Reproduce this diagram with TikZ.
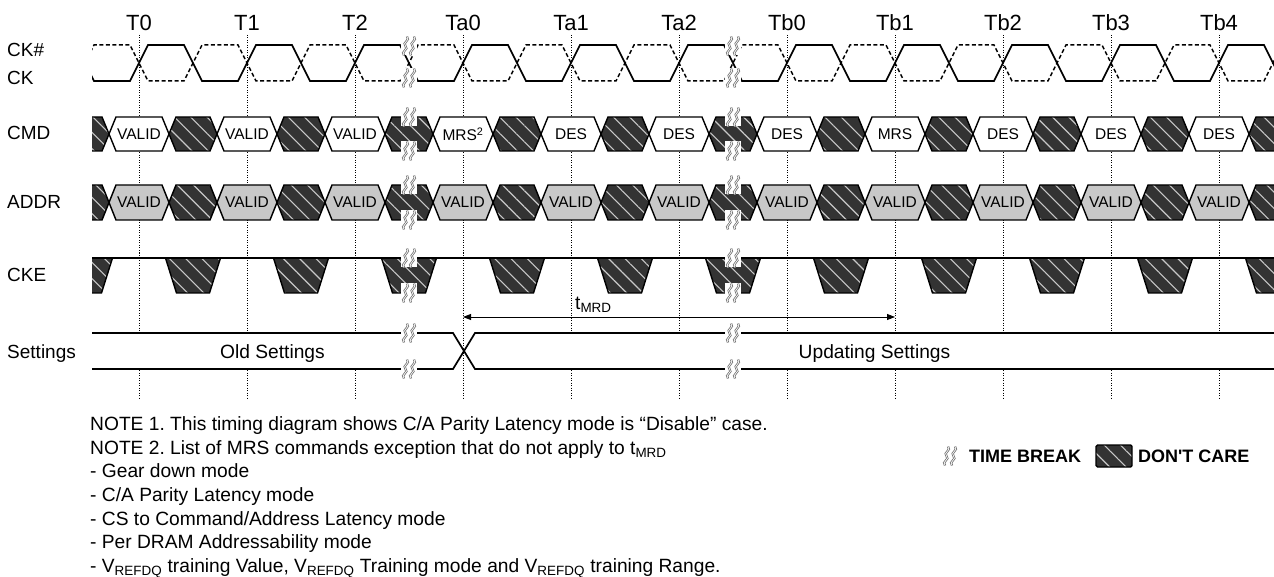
\documentclass[tikz,border=0pt]{standalone}
\usepackage{fontspec}
\setmainfont{Liberation Sans}[Ligatures=TeXOff]
\usetikzlibrary{calc,arrows.meta,patterns.meta}
\definecolor{dcgray}{HTML}{333333}
\definecolor{stripe}{HTML}{C8C8C8}
\definecolor{addrgray}{HTML}{C8C8C8}
\frenchspacing

\begin{document}
\begin{tikzpicture}[x=1pt,y=-1pt,
  every node/.style={inner sep=0pt},
  wave/.style={line width=1.7pt},
  clkbar/.style={line width=1.5pt,dash pattern=on 4pt off 2.5pt},
  tick/.style={line width=0.8pt,dash pattern=on 1pt off 1.5pt},
  bus/.style={draw,line width=1.4pt,line join=miter},
  valid/.style={bus,fill=white},
  addr/.style={bus,fill=addrgray},
  dontcare/.style={preaction={fill=dcgray},
    preaction={pattern={Lines[angle=-45,distance=11.5pt,line width=1.1pt]},pattern color=stripe},
    bus},
  tlabel/.style={font=\fontsize{22}{24}\selectfont},
  rowlabel/.style={font=\fontsize{19}{22}\selectfont,anchor=base west},
  boxtext/.style={font=\fontsize{15.5}{18}\selectfont},
  notetext/.style={font=\fontsize{19.2}{22}\selectfont,anchor=base west},
  legendtext/.style={font=\fontsize{18}{22}\selectfont\bfseries,anchor=west},
  tbreak/.pic={
    \fill[white] (-8,-9.5) rectangle (8,9.5);
    \foreach \o in {-3.5,3.5}
      \draw[white,line width=0.7pt,preaction={draw=gray!85!black,line width=2.2pt}]
        (\o+1.5,-9.5) .. controls (\o+5.5,-5.5) and (\o-4,-3.5) .. (\o,0)
        .. controls (\o+4,3.5) and (\o-5.5,5.5) .. (\o-1.5,9.5);
  }
]
\useasboundingbox (0,0) rectangle (1274,577);

% time labels and ticks
\coordinate (tickTop) at (0,35);
\coordinate (tickBot) at (0,398);
\foreach \n/\x in {T0/139,T1/247,T2/355,Ta0/463,Ta1/571,Ta2/679,Tb0/787,Tb1/895,Tb2/1003,Tb3/1111,Tb4/1219}{
  \node[tlabel] (\n) at (\x,23) {\n};
  \draw[tick] (\n |- tickTop) -- (\n |- tickBot);
}

% signal names
\node[rowlabel] (ckn)  at (7,57)  {CK\#};
\node[rowlabel] (ck)   at (7,85)  {CK};
\node[rowlabel] (cmd)  at (7,140) {CMD};
\node[rowlabel] (addr) at (7,209) {ADDR};
\node[rowlabel] (cke)  at (7,282) {CKE};
\node[rowlabel] (set)  at (7,358) {Settings};

\begin{scope}
\clip (92,0) rectangle (1274,577);
% clock
\draw[wave] (76,45) \foreach \c in {85,193,...,1273} { -- (\c-9,45) -- (\c+9,81) -- (\c+45,81) -- (\c+63,45) };
\draw[clkbar] (76,81) \foreach \c in {85,193,...,1273} { -- (\c-9,81) -- (\c+9,45) -- (\c+45,45) -- (\c+63,81) };

% CMD, ADDR, CKE don't care
\foreach \c in {85,193,...,1273}{
  \draw[dontcare] (\c-24,134) -- (\c-17,117) -- (\c+17,117) -- (\c+24,134) -- (\c+17,151) -- (\c-17,151) -- cycle;
  \draw[dontcare] (\c-24,202.5) -- (\c-17,185) -- (\c+17,185) -- (\c+24,202.5) -- (\c+17,220) -- (\c-17,220) -- cycle;
  \draw[dontcare] (\c-27.5,258) -- (\c-16.5,293) -- (\c+16.5,293) -- (\c+27.5,258) -- cycle;
}
\foreach \x/\s [count=\i] in {139/VALID,247/VALID,355/VALID,463/{MRS\textsuperscript{2}},571/DES,679/DES,787/DES,895/MRS,1003/DES,1111/DES,1219/DES}{
  \draw[valid] (\x-30,134) -- (\x-23,117) -- (\x+23,117) -- (\x+30,134) -- (\x+23,151) -- (\x-23,151) -- cycle;
  \node[boxtext] (cmd\i) at (\x,134) {\s};
  \draw[addr] (\x-30,202.5) -- (\x-23,185) -- (\x+23,185) -- (\x+30,202.5) -- (\x+23,220) -- (\x-23,220) -- cycle;
  \node[boxtext] (addr\i) at (\x,202.5) {VALID};
}

% CKE
\draw[wave] (80,258) -- (1290,258);

% Settings
\filldraw[wave,fill=white] (80,333) -- (453,333) -- (464,351) -- (453,369) -- (80,369);
\filldraw[wave,fill=white] (1290,333) -- (475,333) -- (464,351) -- (475,369) -- (1290,369);
\node[notetext,anchor=base] (old) at (272.5,358) {Old Settings};
\node[notetext,anchor=base] (new) at (874.5,358) {Updating Settings};

% time breaks
\foreach \x in {409,733}
  \foreach \y in {46,78,117,151,185,220,258,293,333,369}
    \pic at (\x,\y) {tbreak};
\end{scope}

% tMRD
\coordinate (mrd) at (0,317);
\draw[{Triangle[length=8pt,width=6pt]}-{Triangle[length=8pt,width=6pt]},line width=0.9pt] (Ta0 |- mrd) -- (Tb1 |- mrd);
\node[notetext] (tmrd) at ([xshift=4pt,yshift=8pt]Ta1 |- mrd) {t\textsubscript{MRD}};

% notes
\foreach \s [count=\i] in {{NOTE 1. This timing diagram shows C/A Parity Latency mode is “Disable” case.},
  {NOTE 2. List of MRS commands exception that do not apply to t\textsubscript{MRD}},
  {- Gear down mode},
  {- C/A Parity Latency mode},
  {- CS to Command/Address Latency mode},
  {- Per DRAM Addressability mode},
  {- V\textsubscript{REFDQ} training Value, V\textsubscript{REFDQ} Training mode and V\textsubscript{REFDQ} training Range.}}
  \node[notetext] (note\i) at (90,407+23.6*\i) {\s};

% legend
\pic at (950,456) {tbreak};
\node[legendtext] (tb) at (969,456) {TIME BREAK};
\draw[dontcare,rounded corners=1.5pt] (1096,445) rectangle (1132,467);
\node[legendtext] (dc) at (1138,456) {DON'T CARE};
\end{tikzpicture}
\end{document}
